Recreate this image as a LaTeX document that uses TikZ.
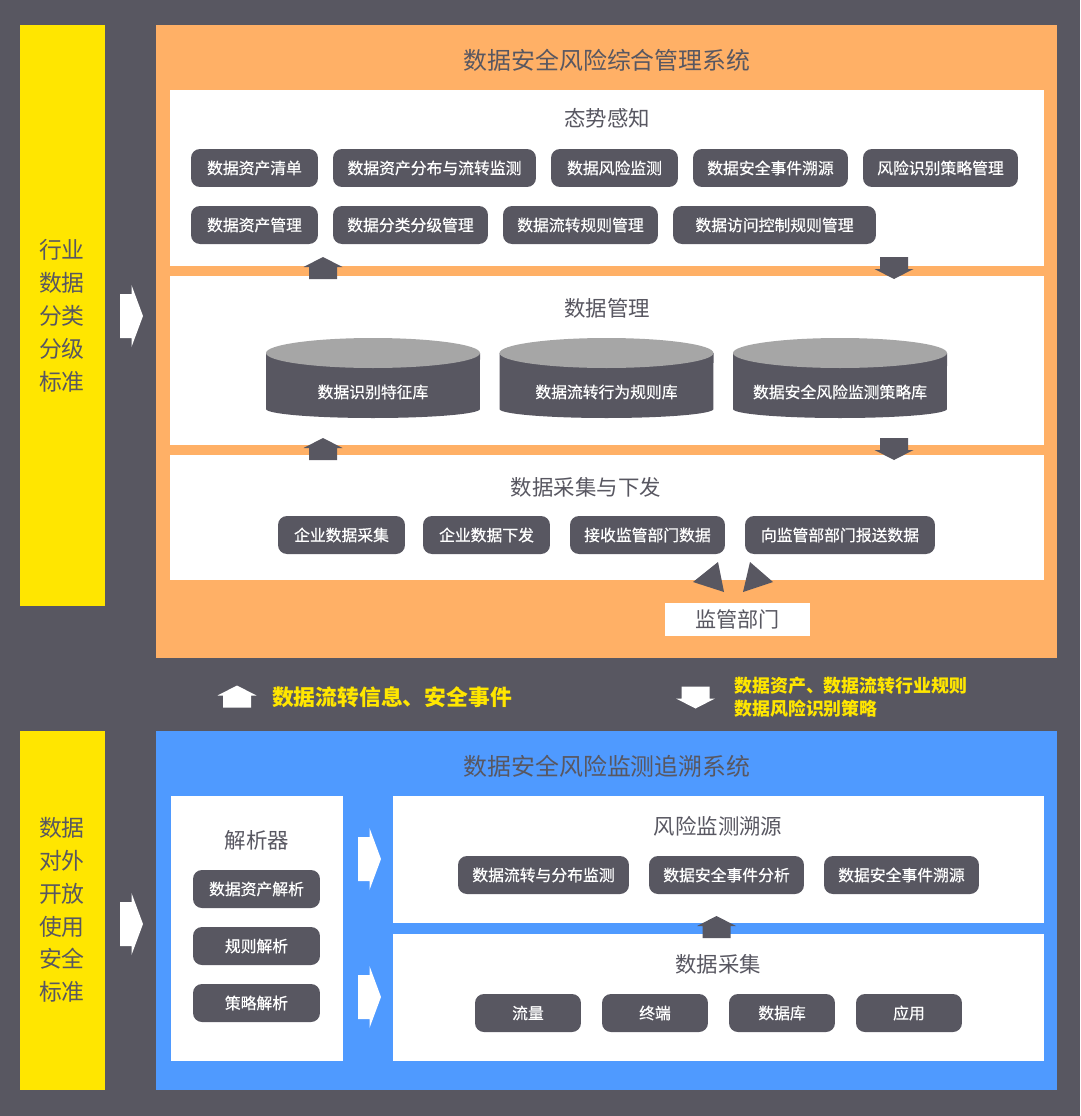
\documentclass[tikz,border=0pt]{standalone}
\usepackage{fontspec}
\setmainfont{Noto Sans CJK SC}
\newfontfamily\medfont{Noto Sans CJK SC}[FakeBold=0.6]
\usepackage{xcolor}
\usepackage{tikz}
\usetikzlibrary{positioning}

\definecolor{bgc}{RGB}{88,87,97}
\definecolor{dk}{RGB}{88,87,97}
\definecolor{ylw}{RGB}{255,230,0}
\definecolor{orng}{RGB}{255,176,102}
\definecolor{blu}{RGB}{79,154,255}
\definecolor{dbtop}{RGB}{166,166,166}

\begin{document}
\begin{tikzpicture}[x=0.02cm,y=-0.02cm,
    ttl/.style={text=dk,font=\fontsize{13.6}{16}\selectfont},
    sub/.style={text=dk,font=\fontsize{12.2}{14}\selectfont},
    pill/.style={fill=dk,rounded corners=0.18cm,text=white,inner sep=0pt,
        minimum height=0.76cm,font=\medfont\fontsize{9}{11}\selectfont},
    side/.style={text=dk,align=center,font=\fontsize{13}{18.7}\selectfont},
    dbtxt/.style={text=white,font=\medfont\fontsize{9}{11}\selectfont},
    uparr/.pic={\path[pic actions] (0,-11) -- (19.5,-1) -- (14,-1) -- (14,11)
        -- (-14,11) -- (-14,-1) -- (-19.5,-1) -- cycle;},
    dnarr/.pic={\path[pic actions] (0,11) -- (19.5,1) -- (14,1) -- (14,-11)
        -- (-14,-11) -- (-14,1) -- (-19.5,1) -- cycle;},
    rtarr/.pic={\path[pic actions] (11.5,0) -- (0,31) -- (0,22) -- (-11.5,22)
        -- (-11.5,-22) -- (0,-22) -- (0,-31) -- cycle;}]

    % background and frames
    \fill[bgc] (0,0) rectangle (1080,1116);
    \useasboundingbox (0,0) rectangle (1080,1116);
    \fill[ylw] (20,25) rectangle (105,606);
    \fill[ylw] (20,731) rectangle (105,1090);
    \fill[orng] (156,25) rectangle (1057,658);
    \fill[blu] (156,731) rectangle (1057,1090);
    \fill[white] (170,90) rectangle (1044,266);
    \fill[white] (170,276) rectangle (1044,445);
    \fill[white] (170,455) rectangle (1044,580);
    \fill[white] (171,796) rectangle (343,1061);
    \fill[white] (393,796) rectangle (1044,923);
    \fill[white] (393,934) rectangle (1044,1061);

    % side standards
    \node[side] (std1) at (62,316) {行业\\数据\\分类\\分级\\标准};
    \node[side] (std2) at (62,910) {数据\\对外\\开放\\使用\\安全\\标准};
    \pic[fill=white] at (131.5,316) {rtarr};
    \pic[fill=white] at (131.5,924) {rtarr};

    % upper system
    \node[ttl] (sys1) at (607,60) {数据安全风险综合管理系统};
    \node[sub] (situ) at (607,118) {态势感知};
    \node[pill,minimum width=2.54cm] (s1) at (254.5,168) {数据资产清单};
    \node[pill,minimum width=4.06cm] (s2) at (434.5,168) {数据资产分布与流转监测};
    \node[pill,minimum width=2.54cm] (s3) at (614.5,168) {数据风险监测};
    \node[pill,minimum width=3.10cm] (s4) at (770.5,168) {数据安全事件溯源};
    \node[pill,minimum width=3.10cm] (s5) at (940.5,168) {风险识别策略管理};
    \node[pill,minimum width=2.54cm] (s6) at (254.5,225) {数据资产管理};
    \node[pill,minimum width=3.10cm] (s7) at (410.5,225) {数据分类分级管理};
    \node[pill,minimum width=3.10cm] (s8) at (580.5,225) {数据流转规则管理};
    \node[pill,minimum width=4.06cm] (s9) at (774.5,225) {数据访问控制规则管理};
    \pic[fill=dk] at (323,268) {uparr};
    \pic[fill=dk] at (894,268) {dnarr};

    \node[sub] (mgmt) at (607,308) {数据管理};
    \foreach \cx/\nm/\txt in {373/db1/数据识别特征库,606.5/db2/数据流转行为规则库,840/db3/数据安全风险监测策略库}{
        \fill[dk] (\cx-107,353) -- (\cx-107,409) arc[start angle=180,end angle=360,
            x radius=2.14cm,y radius=0.18cm] -- (\cx+107,353) -- cycle;
        \fill[dbtop] (\cx,353) ellipse [x radius=2.14cm,y radius=0.3cm];
        \node[dbtxt] (\nm) at (\cx,392) {\txt};
    }
    \pic[fill=dk] at (323,449) {uparr};
    \pic[fill=dk] at (894,449) {dnarr};

    \node[sub] (coll) at (586,487) {数据采集与下发};
    \node[pill,minimum width=2.54cm] (c1) at (341.5,535) {企业数据采集};
    \node[pill,minimum width=2.54cm] (c2) at (486.5,535) {企业数据下发};
    \node[pill,minimum width=3.10cm] (c3) at (647.5,535) {接收监管部门数据};
    \node[pill,minimum width=3.80cm] (c4) at (840,535) {向监管部部门报送数据};
    \node[fill=white,text=dk,minimum width=2.9cm,minimum height=0.66cm,inner sep=0pt,
        font=\fontsize{12}{14}\selectfont] (reg) at (737.5,619.5) {监管部门};
    \fill[dk] (718,562) -- (693,582) -- (724,592) -- cycle;
    \fill[dk] (750,562) -- (773,582) -- (743,592) -- cycle;

    % exchange between the systems
    \pic[fill=white] at (237,696.5) {uparr};
    \node[anchor=west,text=ylw,font=\bfseries\fontsize{12.4}{14}\selectfont] (upinfo) at (266,697)
        {数据流转信息、安全事件};
    \pic[fill=white] at (695.5,697.5) {dnarr};
    \node[anchor=west,text=ylw,align=left,inner sep=0pt,
        font=\bfseries\fontsize{10.2}{13}\selectfont] (dninfo) at (734,697)
        {数据资产、数据流转行业规则\\数据风险识别策略};

    % lower system
    \node[ttl] (sys2) at (607,766) {数据安全风险监测追溯系统};
    \node[sub] (parse) at (257,840) {解析器};
    \node[pill,minimum width=2.54cm] (p1) at (256.5,889) {数据资产解析};
    \node[pill,minimum width=2.54cm] (p2) at (256.5,946) {规则解析};
    \node[pill,minimum width=2.54cm] (p3) at (256.5,1003) {策略解析};
    \pic[fill=white] at (369.5,859) {rtarr};
    \pic[fill=white] at (369.5,997) {rtarr};

    \node[sub] (trace) at (718,826) {风险监测溯源};
    \node[pill,minimum width=3.42cm] (t1) at (543.5,875) {数据流转与分布监测};
    \node[pill,minimum width=3.10cm] (t2) at (726.5,875) {数据安全事件分析};
    \node[pill,minimum width=3.10cm] (t3) at (901.5,875) {数据安全事件溯源};
    \pic[fill=dk] at (716.5,927) {uparr};

    \node[sub] (gather) at (718,964) {数据采集};
    \node[pill,minimum width=2.12cm] (g1) at (528,1013) {流量};
    \node[pill,minimum width=2.12cm] (g2) at (655,1013) {终端};
    \node[pill,minimum width=2.12cm] (g3) at (782,1013) {数据库};
    \node[pill,minimum width=2.12cm] (g4) at (909,1013) {应用};
\end{tikzpicture}
\end{document}
